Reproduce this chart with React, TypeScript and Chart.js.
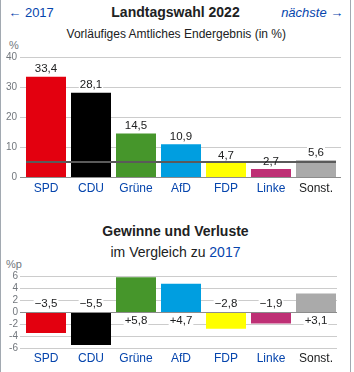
import React, { useEffect, useRef } from 'react';
import { Chart, registerables } from 'chart.js';

Chart.register(...registerables);

// ---- data ----
const categories = ['SPD', 'CDU', 'Grüne', 'AfD', 'FDP', 'Linke', 'Sonst.'];
const results = [33.4, 28.1, 14.5, 10.9, 4.7, 2.7, 5.6];
const changes = [-3.5, -5.5, 5.8, 4.7, -2.8, -1.9, 3.1];
const partyColors = ['#E3000F', '#000000', '#46962B', '#009EE0', '#FFFF00', '#BE3075', '#AAAAAA'];
const linkedCategory = [true, true, true, true, true, true, false];
const threshold = 5;
const resultTicks = { min: 0, max: 40, step: 10 };
const changeTicks = { min: -6, max: 6, step: 2 };

// ---- style ----
const FONT = '"Liberation Sans", Arial, Helvetica, sans-serif';
const LINK = '#0645ad';
const TEXT = '#202122';
const TICK = '#72777d';
const GRID = '#cccccc';
const ZERO = '#8c8c8c';
const THRESH = '#5a5a5a';
const CANVAS_W = 354;

function fmt(v: number, signed: boolean) {
  const s = Math.abs(v).toFixed(1).replace('.', ',');
  if (!signed) return s;
  return (v < 0 ? '\u2212' : '+') + s;
}

type Cfg = {
  values: number[];
  ticks: { min: number; max: number; step: number };
  height: number;
  padTop: number;
  axisHeight: number;
  xPad: number;
  yPad: number;
  gridExtR: number;
  mode: 'result' | 'change';
};

function makeChart(canvas: HTMLCanvasElement, cfg: Cfg) {
  const gridPlugin = {
    id: 'customGrid',
    beforeDatasetsDraw(chart: any) {
      const { ctx, chartArea, scales } = chart;
      const y = scales.y;
      ctx.save();
      ctx.lineWidth = 1;
      y.ticks.forEach((t: any) => {
        if (t.value === 0) return;
        const py = Math.round(y.getPixelForValue(t.value)) + 0.5;
        ctx.strokeStyle = GRID;
        ctx.beginPath();
        ctx.moveTo(chartArea.left - 3.5, py);
        ctx.lineTo(chartArea.right + cfg.gridExtR, py);
        ctx.stroke();
      });
      ctx.restore();
    },
  };

  const labelPlugin = {
    id: 'valueLabels',
    afterDatasetsDraw(chart: any) {
      const { ctx, chartArea, scales } = chart;
      const y = scales.y;
      const zero = y.getPixelForValue(0);
      const meta = chart.getDatasetMeta(0);
      // zero line
      ctx.save();
      ctx.lineWidth = 1;
      ctx.strokeStyle = ZERO;
      const zp = Math.round(zero) + 0.5;
      ctx.beginPath();
      ctx.moveTo(chartArea.left - 3.5, zp);
      ctx.lineTo(chartArea.right + cfg.gridExtR, zp);
      ctx.stroke();

      ctx.font = `11.5px ${FONT}`;
      ctx.textAlign = 'center';
      ctx.textBaseline = 'middle';
      const items = meta.data.map((el: any, i: number) => {
        const v = cfg.values[i];
        let cy: number;
        if (cfg.mode === 'result') cy = el.y - 7.5;
        else cy = v < 0 ? zero - 8 : zero + 9;
        const text = fmt(v, cfg.mode === 'change');
        return { text, x: el.x, cy, w: ctx.measureText(text).width };
      });
      ctx.fillStyle = '#ffffff';
      items.forEach((it: any) => {
        ctx.fillRect(it.x - it.w / 2 - 1, it.cy - 6, it.w + 2, 12);
      });
      if (cfg.mode === 'result') {
        const first = meta.data[0];
        const last = meta.data[meta.data.length - 1];
        const ty = y.getPixelForValue(threshold);
        ctx.strokeStyle = THRESH;
        ctx.lineWidth = 2;
        ctx.beginPath();
        ctx.moveTo(first.x - first.width / 2, ty);
        ctx.lineTo(last.x + last.width / 2, ty);
        ctx.stroke();
      }
      ctx.fillStyle = TEXT;
      items.forEach((it: any) => {
        ctx.fillText(it.text, it.x, it.cy);
      });
      ctx.restore();
    },
  };

  return new Chart(canvas, {
    type: 'bar',
    data: {
      labels: categories,
      datasets: [
        {
          data: cfg.values,
          backgroundColor: partyColors,
          borderWidth: 0,
          barPercentage: 40 / 45,
          categoryPercentage: 1,
        },
      ],
    },
    options: {
      responsive: false,
      animation: false,
      devicePixelRatio: 1,
      layout: { padding: { left: 0, right: CANVAS_W - 338.5, top: cfg.padTop, bottom: 0 } },
      plugins: { legend: { display: false }, tooltip: { enabled: false }, title: { display: false } },
      scales: {
        x: {
          type: 'category',
          offset: true,
          grid: { display: false, drawTicks: false },
          border: { display: false },
          ticks: {
            padding: cfg.xPad,
            maxRotation: 0,
            autoSkip: false,
            font: { family: FONT, size: 12 },
            color: (c: any) => (linkedCategory[c.index] ? LINK : TEXT),
          },
          afterFit: (s: any) => {
            s.height = cfg.axisHeight;
          },
        },
        y: {
          min: cfg.ticks.min,
          max: cfg.ticks.max,
          grid: { display: false, drawTicks: false },
          border: { display: false },
          ticks: {
            stepSize: cfg.ticks.step,
            autoSkip: false,
            padding: cfg.yPad,
            font: { family: FONT, size: 10 },
            color: TICK,
          },
          afterFit: (s: any) => {
            s.width = 23.5;
          },
        },
      },
    },
    plugins: [gridPlugin, labelPlugin],
  } as any);
}

function BarChart({ cfg, top }: { cfg: Cfg; top: number }) {
  const ref = useRef<HTMLCanvasElement>(null);
  useEffect(() => {
    if (!ref.current) return;
    const chart = makeChart(ref.current, cfg);
    return () => chart.destroy();
  }, []);
  return (
    <canvas
      ref={ref}
      width={CANVAS_W}
      height={cfg.height}
      style={{ position: 'absolute', left: 0, top, width: CANVAS_W, height: cfg.height, display: 'block' }}
    />
  );
}

function Txt({
  children,
  base,
  size,
  left = 0,
  width = 351,
  align = 'center',
  bold = false,
  italic = false,
  color = TEXT,
}: any) {
  return (
    <div
      style={{
        position: 'absolute',
        left,
        width,
        top: base - 0.8465 * size,
        fontSize: size,
        lineHeight: `${size}px`,
        textAlign: align,
        fontWeight: bold ? 'bold' : 'normal',
        fontStyle: italic ? 'italic' : 'normal',
        color,
        whiteSpace: 'nowrap',
      }}
    >
      {children}
    </div>
  );
}

export default function App() {
  const topCfg: Cfg = {
    values: results,
    ticks: resultTicks,
    height: 160,
    padTop: 17,
    axisHeight: 23,
    xPad: 4.7,
    yPad: 6.5,
    gridExtR: 2.5,
    mode: 'result',
  };
  const lowCfg: Cfg = {
    values: changes,
    ticks: changeTicks,
    height: 110,
    padTop: 14,
    axisHeight: 24,
    xPad: 3.5,
    yPad: 5.5,
    gridExtR: -1.5,
    mode: 'change',
  };
  return (
    <div
      style={{
        position: 'fixed',
        left: 0,
        top: 0,
        width: 354,
        height: 372,
        overflow: 'hidden',
        background: '#fff',
        fontFamily: FONT,
        color: TEXT,
      }}
    >
      <div
        style={{
          position: 'absolute',
          left: 0,
          top: 0,
          width: 351,
          height: 372,
          boxSizing: 'border-box',
          borderLeft: '1px solid #a2a9b1',
          borderRight: '1px solid #a2a9b1',
        }}
      />
      <Txt base={17} size={13} left={8.3} width={80} align="left" color={LINK}>
        ← 2017
      </Txt>
      <Txt base={17} size={14} bold>
        Landtagswahl 2022
      </Txt>
      <Txt base={17} size={13} left={243.3} width={100} align="right" italic color={LINK}>
        nächste →
      </Txt>
      <Txt base={38.5} size={12} left={0.8}>
        Vorläufiges Amtliches Endergebnis (in %)
      </Txt>
      <Txt base={49.3} size={11} left={9} width={30} align="left" color={TICK}>
        %
      </Txt>
      <BarChart cfg={topCfg} top={40} />
      <Txt base={235.5} size={14} bold>
        Gewinne und Verluste
      </Txt>
      <Txt base={256.7} size={14}>
        im Vergleich zu <span style={{ color: LINK }}>2017</span>
      </Txt>
      <Txt base={268.5} size={11} left={6} width={30} align="left" color={TICK}>
        %p
      </Txt>
      <BarChart cfg={lowCfg} top={262} />
    </div>
  );
}
